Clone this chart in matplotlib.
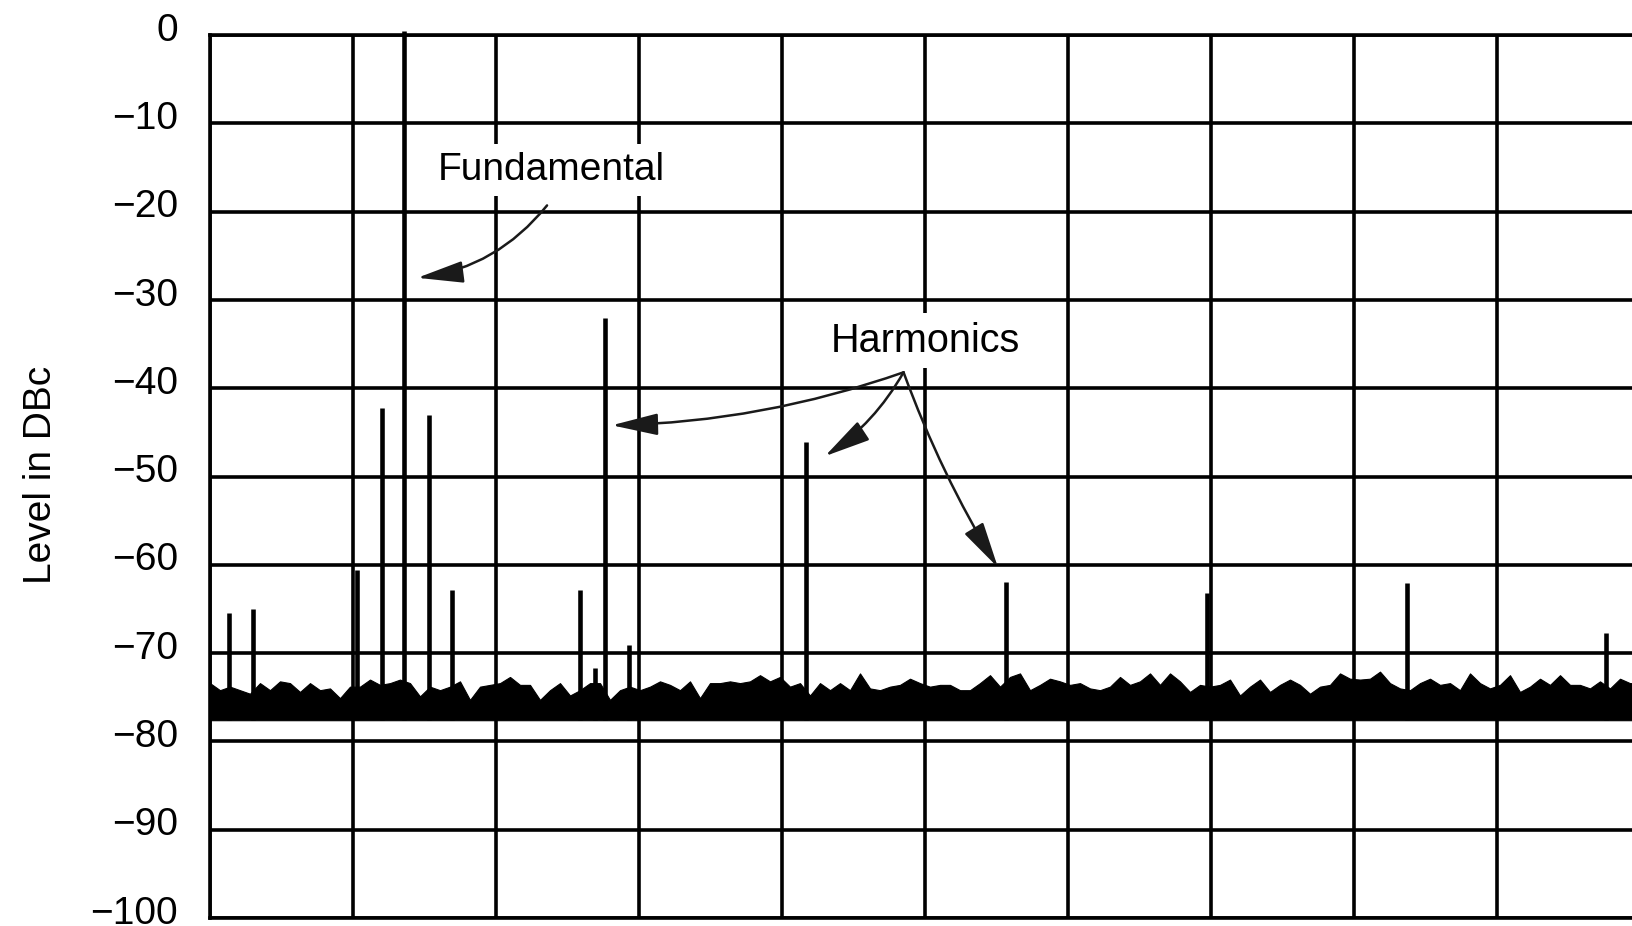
import numpy as np
import matplotlib
matplotlib.use("Agg")
import matplotlib.pyplot as plt
from matplotlib.transforms import ScaledTranslation

plt.rcParams['font.family'] = ['Liberation Sans', 'DejaVu Sans']

# ---- data ----
y_ticks = [0, -10, -20, -30, -40, -50, -60, -70, -80, -90, -100]
x_divisions = 10
y_label = "Level in DBc"

# discrete spectral lines (x in screen divisions, level in dBc)
spur_x = [0.133, 0.30, 1.028, 1.203, 1.357, 1.531, 1.692, 2.587, 2.692,
          2.762, 2.930, 4.168, 5.566, 6.972, 8.371, 9.762]
spur_db = [-65.5, -65.0, -60.6, -42.2, 0.5, -43.0, -62.9, -62.9, -71.7,
           -32.0, -69.1, -46.1, -61.9, -63.2, -62.1, -67.7]

# noise floor: top envelope (dBc) sampled evenly across the screen
noise_top_db = [
    -73.4, -74.2, -73.8, -74.2, -74.6, -73.4, -74.2, -73.2, -73.4, -74.4,
    -73.4, -74.2, -74.0, -75.1, -73.8, -73.8, -73.0, -73.6, -73.4, -73.0,
    -73.4, -74.9, -73.8, -74.2, -73.8, -73.2, -75.3, -73.8, -73.6, -73.4,
    -72.7, -73.6, -73.6, -75.3, -74.2, -73.4,
    -74.8, -74.2, -73.4, -73.4, -75.3, -74.2, -73.8, -74.2, -73.8, -73.2,
    -73.6, -74.2, -73.2, -75.1, -73.4, -73.4, -73.2, -73.4, -73.2, -72.5,
    -73.2, -72.7, -73.8, -73.4, -74.8, -73.4, -74.2, -73.4, -74.2, -72.3,
    -74.0, -74.2, -73.8, -73.6, -72.9,
    -73.4, -73.8, -73.6, -73.6, -74.2, -74.2, -73.4, -72.5, -73.8, -72.7,
    -72.3, -74.2, -73.6, -72.9, -73.2, -73.6, -73.4, -74.0, -74.2, -73.8,
    -72.7, -73.6, -73.2, -72.3, -73.6, -72.3, -73.2, -74.4, -73.6, -73.8,
    -73.6, -73.0, -74.8, -73.8, -73.0, -74.4,
    -73.6, -73.0, -73.6, -74.6, -73.8, -73.6, -72.3, -72.9, -73.0, -72.9,
    -72.1, -73.4, -74.0, -74.2, -73.4, -72.9, -73.6, -73.4, -74.2, -72.3,
    -73.4, -74.0, -73.6, -72.5, -74.4, -73.8, -72.9, -73.6, -72.5, -73.6,
    -73.6, -74.0, -73.2, -74.0, -72.9, -73.4, -73.4,
]
noise_bottom_db = -77.6

# annotations
fund_label = "Fundamental"
fund_text_xy = (2.39, -15.3)
fund_arrow_from = (2.357, -19.3)
fund_arrow_to = (1.45, -27.5)

harm_label = "Harmonics"
harm_text_xy = (5.0, -34.6)
harm_arrow_from = (4.85, -38.2)
harm_arrow_to = [(2.81, -44.2), (4.30, -47.7), (5.51, -60.3)]
harm_arrow_rad = [-0.08, -0.12, 0.05]

# ---- figure ----
W, H, DPI = 1633, 926, 100
fig = plt.figure(figsize=(W / DPI, H / DPI), dpi=DPI)
ax = fig.add_axes([210 / W, 1 - 918 / H, 1430 / W, 883 / H])

ax.set_xlim(0, x_divisions)
ax.set_ylim(-100, 0)
ax.set_xticks(np.arange(0, x_divisions + 1))
ax.set_yticks(y_ticks)
ax.set_xticklabels([])
ax.set_yticklabels([f"\u2212{abs(v)}" if v < 0 else f"{v}" for v in y_ticks])
ax.tick_params(axis='both', length=0)
ax.tick_params(axis='y', labelsize=28, pad=23)
for lab in ax.get_yticklabels():
    lab.set_transform(lab.get_transform() + ScaledTranslation(0, 6 / 72, fig.dpi_scale_trans))

ax.grid(True, color='black', linewidth=2.6, zorder=1)
ax.set_axisbelow(True)
for side in ax.spines:
    ax.spines[side].set_linewidth(2.6)
    ax.spines[side].set_zorder(1)

# noise floor
nx = np.linspace(0, x_divisions, len(noise_top_db))
ax.fill_between(nx, noise_bottom_db, noise_top_db,
                color='black', linewidth=0.8, edgecolor='black', zorder=3)

# spectral lines
for x, v in zip(spur_x, spur_db):
    ax.vlines(x, noise_bottom_db, v, color='black', linewidth=3.3,
              zorder=4, clip_on=False)

# labels
fig.text(41 / W, 1 - 475 / H, y_label, rotation=90, ha='center', va='center',
         fontsize=28)

box = dict(facecolor='white', edgecolor='none', pad=6)
ax.text(*fund_text_xy, fund_label, fontsize=28, ha='center', va='center',
        bbox=box, zorder=5)
ax.text(*harm_text_xy, harm_label, fontsize=28.5, ha='center', va='center',
        bbox=box, zorder=5)

astyle = "-|>,head_length=1.9,head_width=0.45"
ax.annotate('', xy=fund_arrow_to, xytext=fund_arrow_from,
            arrowprops=dict(arrowstyle=astyle, mutation_scale=15,
                            connectionstyle="arc3,rad=-0.2", color='#1a1a1a',
                            lw=1.8, shrinkA=0, shrinkB=0), zorder=6)
for tip, rad in zip(harm_arrow_to, harm_arrow_rad):
    ax.annotate('', xy=tip, xytext=harm_arrow_from,
                arrowprops=dict(arrowstyle=astyle, mutation_scale=15,
                                connectionstyle=f"arc3,rad={rad}", color='#1a1a1a',
                                lw=1.8, shrinkA=0, shrinkB=0), zorder=6)

fig.savefig("out.png", dpi=DPI, facecolor='white')
